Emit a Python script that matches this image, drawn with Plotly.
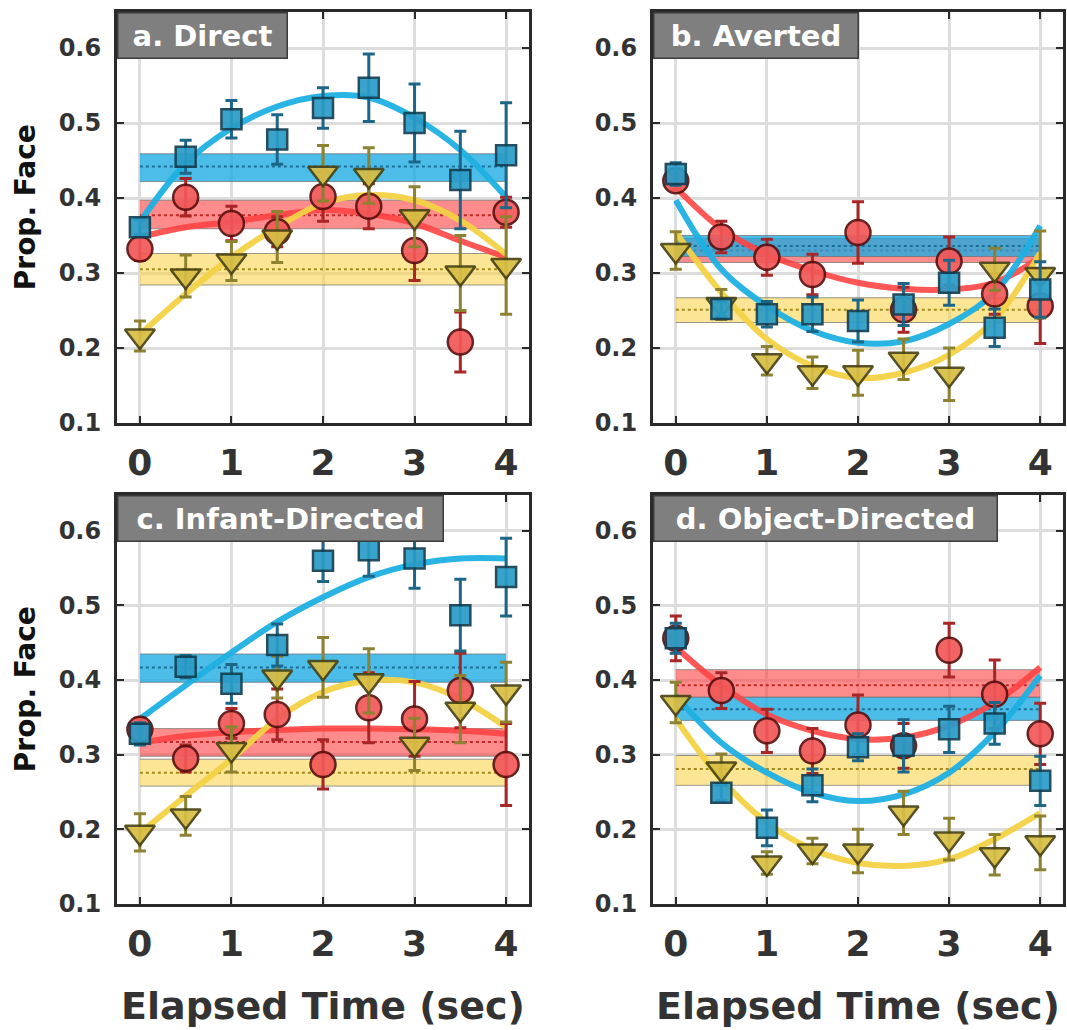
import plotly.graph_objects as go

# ---------------- data ----------------
TIME = [0, 0.5, 1, 1.5, 2, 2.5, 3, 3.5, 4]
PANEL_TITLES = ["a. Direct", "b. Averted", "c. Infant-Directed", "d. Object-Directed"]
X_TICKS = [0, 1, 2, 3, 4]
Y_TICKS = [0.1, 0.2, 0.3, 0.4, 0.5, 0.6]
Y_TICK_TEXT = ["0.1", "0.2", "0.3", "0.4", "0.5", "0.6"]

# blue squares (mean, error) per panel a-d
SQ_MEAN = [
    [0.361, 0.455, 0.505, 0.478, 0.520, 0.547, 0.500, 0.424, 0.457],
    [0.432, 0.252, 0.245, 0.245, 0.236, 0.258, 0.287, 0.227, 0.278],
    [0.328, 0.418, 0.395, 0.447, 0.560, 0.574, 0.563, 0.487, 0.538],
    [0.456, 0.249, 0.202, 0.259, 0.310, 0.312, 0.334, 0.342, 0.265],
]
SQ_ERR = [
    [0.010, 0.022, 0.025, 0.033, 0.027, 0.045, 0.052, 0.065, 0.070],
    [0.015, 0.010, 0.017, 0.023, 0.028, 0.028, 0.030, 0.025, 0.037],
    [0.015, 0.015, 0.026, 0.028, 0.028, 0.035, 0.040, 0.048, 0.052],
    [0.020, 0.010, 0.024, 0.022, 0.018, 0.035, 0.031, 0.028, 0.033],
]
# red circles
CI_MEAN = [
    [0.332, 0.401, 0.366, 0.355, 0.402, 0.389, 0.330, 0.208, 0.381],
    [0.423, 0.348, 0.321, 0.298, 0.354, 0.251, 0.316, 0.272, 0.256],
    [0.334, 0.295, 0.342, 0.354, 0.287, 0.363, 0.348, 0.386, 0.287],
    [0.456, 0.386, 0.332, 0.305, 0.340, 0.312, 0.440, 0.381, 0.328],
]
CI_ERR = [
    [0.015, 0.025, 0.023, 0.020, 0.033, 0.030, 0.040, 0.040, 0.020],
    [0.012, 0.021, 0.024, 0.027, 0.041, 0.030, 0.032, 0.027, 0.050],
    [0.015, 0.018, 0.020, 0.034, 0.033, 0.047, 0.050, 0.050, 0.055],
    [0.030, 0.024, 0.029, 0.030, 0.040, 0.030, 0.036, 0.046, 0.041],
]
# yellow triangles
TR_MEAN = [
    [0.216, 0.296, 0.316, 0.348, 0.433, 0.430, 0.375, 0.300, 0.310],
    [0.330, 0.258, 0.183, 0.167, 0.167, 0.185, 0.165, 0.305, 0.298],
    [0.196, 0.218, 0.307, 0.404, 0.417, 0.399, 0.314, 0.361, 0.384],
    [0.370, 0.281, 0.155, 0.171, 0.171, 0.222, 0.187, 0.166, 0.182],
]
TR_ERR = [
    [0.020, 0.028, 0.026, 0.034, 0.037, 0.037, 0.040, 0.050, 0.065],
    [0.025, 0.020, 0.019, 0.021, 0.030, 0.027, 0.035, 0.028, 0.058],
    [0.025, 0.026, 0.030, 0.028, 0.040, 0.043, 0.035, 0.045, 0.040],
    [0.027, 0.020, 0.015, 0.017, 0.029, 0.029, 0.028, 0.027, 0.036],
]
# fitted curves
FIT_BLUE = [
    [0.368, 0.446, 0.493, 0.522, 0.536, 0.534, 0.507, 0.464, 0.401],
    [0.397, 0.305, 0.256, 0.223, 0.207, 0.209, 0.232, 0.274, 0.363],
    [0.348, 0.393, 0.437, 0.478, 0.511, 0.538, 0.555, 0.563, 0.563],
    [0.379, 0.316, 0.276, 0.249, 0.238, 0.247, 0.276, 0.330, 0.406],
]
FIT_RED = [
    [0.348, 0.361, 0.368, 0.377, 0.384, 0.379, 0.366, 0.343, 0.321],
    [0.414, 0.359, 0.325, 0.303, 0.287, 0.279, 0.278, 0.287, 0.321],
    [0.316, 0.325, 0.330, 0.333, 0.335, 0.335, 0.334, 0.332, 0.328],
    [0.444, 0.393, 0.354, 0.332, 0.321, 0.323, 0.339, 0.370, 0.417],
]
FIT_YELLOW = [
    [0.218, 0.272, 0.321, 0.361, 0.393, 0.404, 0.397, 0.370, 0.325],
    [0.354, 0.274, 0.212, 0.176, 0.160, 0.167, 0.191, 0.238, 0.327],
    [0.195, 0.245, 0.294, 0.348, 0.384, 0.399, 0.397, 0.375, 0.337],
    [0.348, 0.267, 0.209, 0.173, 0.155, 0.151, 0.160, 0.187, 0.222],
]
# baseline bands: (centre, low, high)
BAND_BLUE = [(0.442, 0.422, 0.459), (0.336, 0.322, 0.350), (0.417, 0.397, 0.435), (0.361, 0.346, 0.377)]
BAND_RED = [(0.377, 0.359, 0.397), (0.330, 0.314, 0.346), (0.317, 0.298, 0.335), (0.393, 0.377, 0.414)]
BAND_YELLOW = [(0.305, 0.284, 0.326), (0.251, 0.234, 0.267), (0.276, 0.258, 0.294), (0.281, 0.259, 0.299)]
BAND_X = [0, 4]

# ---------------- styling ----------------
W, H = 1067, 1030
FONT = "DejaVu Sans"
X_DOM = [(117 / W, 529 / W), (653 / W, 1063 / W)]
Y_DOM = [(1 - 423 / H, 1 - 12 / H), (1 - 904 / H, 1 - 495 / H)]
LABEL_W = [168, 203, 324, 342]

STY = {
    "blue": dict(fill="rgba(25,170,225,0.78)", mid="#1b6f98", fit="rgba(30,176,226,0.95)",
                 mk="#2a9cc7", mkline="#123f52", err="#1d6688", sym="square", size=20),
    "red": dict(fill="rgba(255,70,70,0.62)", mid="#c42525", fit="rgba(255,68,68,0.9)",
                mk="#f25858", mkline="#5c1010", err="#a82626", sym="circle", size=25),
    "yellow": dict(fill="rgba(250,208,60,0.55)", mid="#a48a1a", fit="rgba(243,210,70,0.95)",
                   mk="#d8be44", mkline="#4a4414", err="#8c8232", sym="triangle-down", size=26),
}

fig = go.Figure()

for p in range(4):
    col, row = p % 2, p // 2
    suffix = "" if p == 0 else str(p + 1)
    xa, ya = "x" + suffix, "y" + suffix

    # bands
    for key, bands in (("red", BAND_RED), ("blue", BAND_BLUE), ("yellow", BAND_YELLOW)):
        mid, lo, hi = bands[p]
        s = STY[key]
        fig.add_trace(go.Scatter(x=BAND_X, y=[lo, lo], mode="lines", xaxis=xa, yaxis=ya,
                                 line=dict(color="rgba(110,110,110,0.7)", width=1),
                                 showlegend=False, hoverinfo="skip"))
        fig.add_trace(go.Scatter(x=BAND_X, y=[hi, hi], mode="lines", xaxis=xa, yaxis=ya,
                                 fill="tonexty", fillcolor=s["fill"],
                                 line=dict(color="rgba(110,110,110,0.7)", width=1),
                                 showlegend=False, hoverinfo="skip"))
        fig.add_trace(go.Scatter(x=BAND_X, y=[mid, mid], mode="lines", xaxis=xa, yaxis=ya,
                                 line=dict(color=s["mid"], width=2, dash="dot"),
                                 showlegend=False, hoverinfo="skip"))

    # fitted curves
    for key, fits in (("red", FIT_RED), ("yellow", FIT_YELLOW), ("blue", FIT_BLUE)):
        fig.add_trace(go.Scatter(x=TIME, y=fits[p], mode="lines", xaxis=xa, yaxis=ya,
                                 line=dict(color=STY[key]["fit"], width=6, shape="spline"),
                                 showlegend=False, hoverinfo="skip"))

    # markers with error bars
    for key, means, errs in (("red", CI_MEAN, CI_ERR), ("yellow", TR_MEAN, TR_ERR),
                             ("blue", SQ_MEAN, SQ_ERR)):
        s = STY[key]
        fig.add_trace(go.Scatter(
            x=TIME, y=means[p], mode="markers", xaxis=xa, yaxis=ya,
            error_y=dict(type="data", array=errs[p], visible=True,
                         color=s["err"], thickness=3, width=6),
            marker=dict(symbol=s["sym"], size=s["size"], color=s["mk"], opacity=0.92,
                        line=dict(color=s["mkline"], width=2.5)),
            showlegend=False))

    axis_common = dict(showline=True, linecolor="#2a2a2a", linewidth=3, mirror="ticks",
                       ticks="inside", ticklen=7, tickwidth=2, tickcolor="#2a2a2a",
                       showgrid=True, gridcolor="#dddddd", gridwidth=2.5, zeroline=False,
                       automargin=False)
    fig.layout["xaxis" + suffix] = dict(
        axis_common, domain=list(X_DOM[col]), range=[-0.25, 4.25], tickvals=X_TICKS,
        ticklabelstandoff=6,
        tickfont=dict(family=FONT, size=36, color="#333333", weight="bold"),
        anchor=ya)
    fig.layout["yaxis" + suffix] = dict(
        axis_common, domain=list(Y_DOM[row]), range=[0.1, 0.648], tickvals=Y_TICKS,
        ticktext=Y_TICK_TEXT, ticklabelstandoff=8,
        tickfont=dict(family=FONT, size=24, color="#333333", weight="bold"),
        anchor=xa)

    # panel label
    fig.add_annotation(xref="paper", yref="paper", x=X_DOM[col][0], y=Y_DOM[row][1],
                       xanchor="left", yanchor="top", text=PANEL_TITLES[p], showarrow=False,
                       font=dict(family=FONT, size=29, color="white", weight="bold"),
                       bgcolor="#7f7f7f", bordercolor="#3c3c3c", borderwidth=1.5, borderpad=0,
                       width=LABEL_W[p], height=44, align="center", valign="middle")

# axis titles
for row in range(2):
    fig.add_annotation(xref="paper", yref="paper", x=25 / W,
                       y=(Y_DOM[row][0] + Y_DOM[row][1]) / 2 + 0.01,
                       xanchor="center", yanchor="middle",
                       text="Prop. Face", textangle=-90, showarrow=False,
                       font=dict(family=FONT, size=28, color="#111111", weight="bold"))
for col in range(2):
    fig.add_annotation(xref="paper", yref="paper", x=(X_DOM[col][0] + X_DOM[col][1]) / 2,
                       y=1 - 1006 / H, xanchor="center", yanchor="middle",
                       text="Elapsed Time (sec)", showarrow=False,
                       font=dict(family=FONT, size=38, color="#333333", weight="bold"))

fig.update_layout(width=W, height=H, margin=dict(l=0, r=0, t=0, b=0),
                  paper_bgcolor="white", plot_bgcolor="white", showlegend=False)

fig.write_html("out.html", config={"displayModeBar": False},
               post_script="document.body.style.margin='0';document.body.style.padding='0';"
                           "document.documentElement.style.overflow='hidden';")
